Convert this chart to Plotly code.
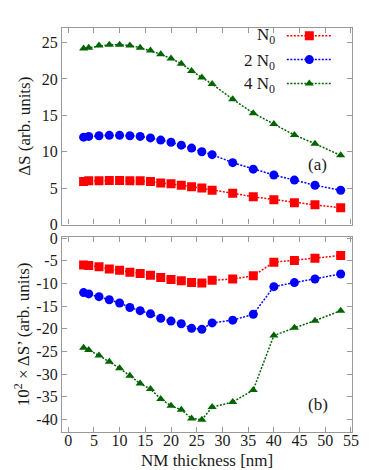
import plotly.graph_objects as go
from plotly.subplots import make_subplots

thickness = [3, 4, 6, 8, 10, 12, 14, 16, 18, 20, 22, 24, 26, 28, 32, 36, 40, 44, 48, 53]

dS_N0 = [5.9, 6.0, 6.0, 6.05, 6.05, 6.0, 6.0, 5.9, 5.7, 5.6, 5.4, 5.2, 5.0, 4.7, 4.3, 3.8, 3.4, 3.0, 2.7, 2.3]
dS_2N0 = [12.0, 12.1, 12.2, 12.25, 12.25, 12.2, 12.1, 11.9, 11.6, 11.3, 10.9, 10.5, 10.0, 9.6, 8.5, 7.6, 6.8, 6.1, 5.4, 4.7]
dS_4N0 = [24.2, 24.3, 24.6, 24.7, 24.7, 24.6, 24.3, 23.9, 23.4, 22.8, 22.1, 21.1, 20.2, 19.3, 17.2, 15.3, 13.8, 12.3, 11.1, 9.5]

dSp_N0 = [-5.9, -6.0, -6.3, -6.8, -7.1, -7.5, -7.8, -8.2, -8.7, -9.1, -9.4, -9.8, -9.9, -9.3, -9.0, -8.3, -5.3, -4.9, -4.4, -3.8]
dSp_2N0 = [-12.0, -12.3, -12.9, -13.6, -14.3, -15.3, -16.0, -16.7, -17.7, -18.3, -18.9, -19.9, -20.1, -18.7, -18.1, -16.8, -10.7, -9.8, -9.0, -7.9]
dSp_4N0 = [-24.2, -24.7, -25.9, -27.3, -28.7, -30.4, -32.1, -33.3, -35.5, -37.0, -37.9, -39.8, -40.1, -37.3, -36.2, -33.5, -21.5, -19.8, -18.2, -16.0]

bottom_tickvals = [0, -5, -10, -15, -20, -25, -30, -35, -40]
bottom_ticktext = ["0", "-5", "-10", "-15", "-20", "-25", "-30", "-35", "-40"]

labels = ["N<sub>0</sub>", "2 N<sub>0</sub>", "4 N<sub>0</sub>"]
colors = ["#ff0000", "#0000ff", "#006400"]
symbols = ["square", "circle", "triangle-up"]
msizes = [9, 9, 8]

FONT = "Liberation Serif, serif"
TXT = "#1a1a1a"

fig = make_subplots(rows=2, cols=1, shared_xaxes=False, vertical_spacing=0.03)

top = [dS_N0, dS_2N0, dS_4N0]
bot = [dSp_N0, dSp_2N0, dSp_4N0]
for i in range(3):
    fig.add_trace(go.Scatter(x=thickness, y=top[i], mode="lines+markers", name="",
                             line=dict(color=colors[i], width=1.5, dash="2px,1.5px"),
                             marker=dict(symbol=symbols[i], size=msizes[i], color=colors[i]),
                             showlegend=True), row=1, col=1)
for i in range(3):
    fig.add_trace(go.Scatter(x=thickness, y=bot[i], mode="lines+markers", name=labels[i],
                             line=dict(color=colors[i], width=1.5, dash="2px,1.5px"),
                             marker=dict(symbol=symbols[i], size=msizes[i], color=colors[i]),
                             showlegend=False), row=2, col=1)

axis_common = dict(showline=True, linecolor="#999999", linewidth=1.2, mirror="ticks",
                   ticks="inside", ticklen=5, tickcolor="#999999", showgrid=False, zeroline=False,
                   tickfont=dict(family=FONT, size=16, color=TXT))

fig.update_xaxes(range=[-1.2, 55.2], dtick=5, tick0=0, **axis_common)
fig.update_xaxes(showticklabels=False, row=1, col=1)
fig.update_xaxes(ticklabelstandoff=-6, row=2, col=1)
fig.update_yaxes(**axis_common)
fig.update_yaxes(range=[0, 27], dtick=5, row=1, col=1,
                 title=dict(text="ΔS (arb. units)", font=dict(family=FONT, size=17, color=TXT), standoff=6))
fig.update_yaxes(range=[-42.8, 0.3], tickmode="array", tickvals=bottom_tickvals, ticktext=bottom_ticktext,
                 row=2, col=1,
                 title=dict(text="10<sup>2</sup> × ΔS’ (arb. units)", font=dict(family=FONT, size=17, color=TXT), standoff=2))

fig.update_layout(
    width=374, height=470,
    font=dict(family=FONT, color=TXT),
    margin=dict(l=54, r=30, t=19, b=46),
    paper_bgcolor="white", plot_bgcolor="white",
    xaxis=dict(domain=[0, 1]),
    yaxis=dict(domain=[0.5136, 1]),
    yaxis2=dict(domain=[0, 0.483]),
    legend=dict(x=0.758, y=1.02, xanchor="left", yanchor="top", bgcolor="rgba(0,0,0,0)",
                font=dict(family=FONT, size=16), tracegroupgap=0, itemwidth=45),
    showlegend=True,
)

row_y = [0.980, 0.917, 0.858]
for i, lab in enumerate(labels):
    fig.add_annotation(xref="paper", yref="paper", x=0.74, y=row_y[i], xanchor="right", yanchor="middle",
                       text=lab, showarrow=False, font=dict(family=FONT, size=17, color=TXT))

fig.add_annotation(xref="paper", yref="paper", x=0.5, y=-0.0716, xanchor="center", yanchor="middle",
                   text="NM thickness [nm]", showarrow=False, font=dict(family=FONT, size=17, color=TXT))

fig.add_annotation(x=48.5, y=8.2, xref="x", yref="y", text="(a)", showarrow=False,
                   font=dict(family=FONT, size=17, color=TXT))
fig.add_annotation(x=48.5, y=-36.7, xref="x2", yref="y2", text="(b)", showarrow=False,
                   font=dict(family=FONT, size=17, color=TXT))

fig.write_html("out.html")
